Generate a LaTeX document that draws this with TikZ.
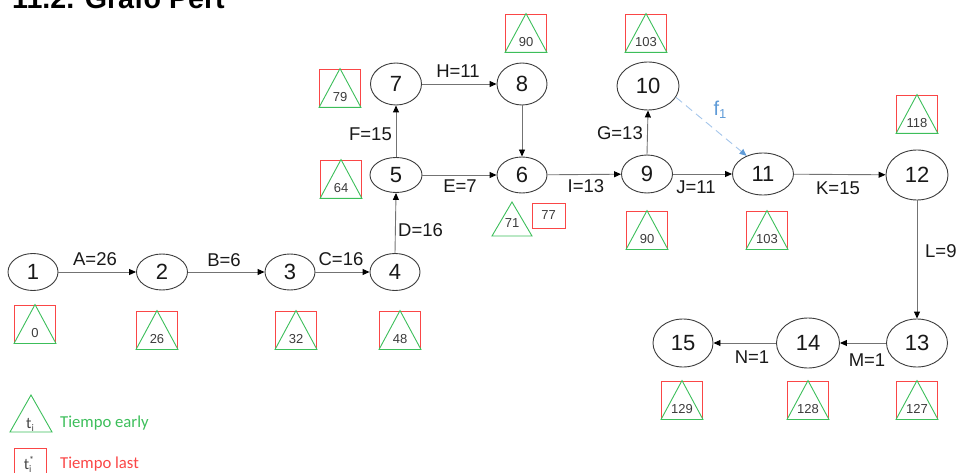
\documentclass[tikz,border=0pt]{standalone}
\usepackage{fontspec}
\setmainfont{Liberation Sans}
\newfontfamily\legendfont{Carlito}
\usetikzlibrary{shapes.geometric,arrows.meta}

\definecolor{early}{RGB}{60,190,90}
\definecolor{late}{RGB}{250,70,70}
\definecolor{slack}{RGB}{95,155,215}
\definecolor{slackline}{RGB}{165,198,235}
\definecolor{edgegray}{RGB}{115,115,115}
\definecolor{ink}{RGB}{25,25,25}

\tikzset{
  ev/.style={ellipse, draw=ink!85, line width=0.9pt, inner sep=0pt,
             font=\fontsize{22}{24}\selectfont, text=ink},
  act/.style={draw=edgegray, line width=0.9pt,
              -{Triangle[length=7pt,width=6pt,color=black]}},
  lab/.style={font=\fontsize{18.5}{20}\selectfont, text=ink, inner sep=0pt},
  tnum/.style={font=\fontsize{13}{14}\selectfont, text=ink!85, inner sep=0pt},
  lbox/.style={draw=late, line width=0.9pt, minimum width=41pt,
               minimum height=38pt, inner sep=0pt},
}

% red square (late time) with the green triangle (early time) inside it
\newcommand\pertbox[4]{%
  \node[lbox] (#1) at (#2,#3) {};
  \draw[early, line width=0.9pt] (#1.south west) -- (#1.north) -- (#1.south east) -- cycle;
  \node[tnum, anchor=base] (#1num) at ([yshift=6pt]#1.south) {#4};
}

\begin{document}
\begin{tikzpicture}[x=1pt,y=-1pt]
\useasboundingbox (0,0) rectangle (958,473);

% heading
\node[anchor=base west, inner sep=0pt, font=\bfseries\fontsize{28.6}{30}\selectfont]
  (title) at (12,9) {11.2. Grafo Pert};

% events
\node[ev, minimum width=50pt, minimum height=37pt] (n1)  at (33,272)  {1};
\node[ev, minimum width=51pt, minimum height=36pt] (n2)  at (162,272) {2};
\node[ev, minimum width=50pt, minimum height=36pt] (n3)  at (290,272) {3};
\node[ev, minimum width=50pt, minimum height=37pt] (n4)  at (395,272) {4};
\node[ev, minimum width=52pt, minimum height=35pt] (n5)  at (396,175) {5};
\node[ev, minimum width=50pt, minimum height=36pt] (n6)  at (522,175) {6};
\node[ev, minimum width=51pt, minimum height=42pt] (n7)  at (396,84)  {7};
\node[ev, minimum width=50pt, minimum height=42pt] (n8)  at (522,84)  {8};
\node[ev, minimum width=51pt, minimum height=38pt] (n9)  at (647,174) {9};
\node[ev, minimum width=62pt, minimum height=48pt] (n10) at (648,86)  {10};
\node[ev, minimum width=61pt, minimum height=42pt] (n11) at (763,174) {11};
\node[ev, minimum width=62pt, minimum height=50pt] (n12) at (917,175) {12};
\node[ev, minimum width=61pt, minimum height=48pt] (n13) at (917,343) {13};
\node[ev, minimum width=63pt, minimum height=50pt] (n14) at (808,343) {14};
\node[ev, minimum width=60pt, minimum height=48pt] (n15) at (683,343) {15};

% activities
\draw[act] (n1) -- (n2);
\draw[act] (n2) -- (n3);
\draw[act] (n3) -- (n4);
\draw[act] (n4.north) -- (n5.south);
\draw[act] (n5.north) -- (n7.south);
\draw[act] (n7) -- (n8);
\draw[act] (n8.south) -- (n6.north);
\draw[act] (n5) -- (n6);
\draw[act] (n6) -- (n9);
\draw[act] (n9.north) -- (n10.south);
\draw[act] (n9) -- (n11);
\draw[act] (n11) -- (n12);
\draw[act] (n12.south) -- (n13.north);
\draw[act] (n13) -- (n14);
\draw[act] (n14) -- (n15);

% dummy activity with slack
\draw[slackline, line width=0.9pt, dash pattern=on 8pt off 5pt,
      -{Triangle[length=7pt,width=6pt,color=slack]}] (n10.-22) -- (n11.132);
\node[font=\fontsize{20}{22}\selectfont, text=slack, inner sep=0pt] (f1) at (720,110)
  {f\raisebox{-3pt}{\fontsize{13}{14}\selectfont 1}};

% durations
\node[lab] (lA) at (95,259)  {A=26};
\node[lab] (lB) at (224,260) {B=6};
\node[lab] (lC) at (341,259) {C=16};
\node[lab, anchor=west] (lD) at (398,230) {D=16};
\node[lab] (lE) at (460,186) {E=7};
\node[lab, anchor=east] (lF) at (392,134) {F=15};
\node[lab] (lH) at (458,71)  {H=11};
\node[lab] (lI) at (586,186) {I=13};
\node[lab, anchor=east] (lG) at (643,133) {G=13};
\node[lab] (lJ) at (696,187) {J=11};
\node[lab] (lK) at (838,188) {K=15};
\node[lab, anchor=west] (lL) at (925,251) {L=9};
\node[lab] (lM) at (867,360) {M=1};
\node[lab] (lN) at (752,357) {N=1};

% early / late times
\pertbox{t1}{35}{324}{0}
\pertbox{t2}{157}{330}{26}
\pertbox{t3}{296}{330}{32}
\pertbox{t4}{400}{330}{48}
\pertbox{t5}{341}{179}{64}
\pertbox{t7}{340}{88}{79}
\pertbox{t8}{526}{33}{90}
\pertbox{t10}{646}{33}{103}
\pertbox{t9}{647}{230}{90}
\pertbox{t11}{767}{230}{103}
\pertbox{t12}{917}{114}{118}
\pertbox{t13}{917}{400}{127}
\pertbox{t14}{808}{400}{128}
\pertbox{t15}{682}{400}{129}

% event 6: early and late times shown apart
\draw[early, line width=0.9pt] (492,236) -- (512,202) -- (532,236) -- cycle;
\node[tnum, anchor=base] (e6) at (512,227) {71};
\node[draw=late, line width=0.9pt, minimum width=33pt, minimum height=25pt,
      inner sep=0pt, tnum] (l6) at (548.5,215.5) {77};

% legend
\draw[early, line width=0.9pt] (10,432) -- (31,395) -- (52,432) -- cycle;
\node[inner sep=0pt, anchor=base, font=\legendfont\fontsize{16}{18}\selectfont, text=ink!80]
  (lt) at (30,428) {t\raisebox{-3pt}{\fontsize{10}{10}\selectfont i}};
\node[anchor=base west, inner sep=0pt, text=early,
      font=\legendfont\fontsize{16.7}{18}\selectfont] (le) at (60,427) {Tiempo early};
\node[draw=late, line width=0.9pt, minimum width=32pt, minimum height=32pt,
      inner sep=0pt] (ls) at (30,464) {};
\node[inner sep=0pt, anchor=base, font=\legendfont\fontsize{16}{18}\selectfont, text=ink!80]
  (ltl) at (29,469) {t\rlap{\raisebox{-3pt}{\fontsize{10}{10}\selectfont i}}\raisebox{6pt}{\fontsize{10}{10}\selectfont *}};
\node[anchor=base west, inner sep=0pt, text=late,
      font=\legendfont\fontsize{16.7}{18}\selectfont] (ll) at (60,468) {Tiempo last};

\end{tikzpicture}
\end{document}
